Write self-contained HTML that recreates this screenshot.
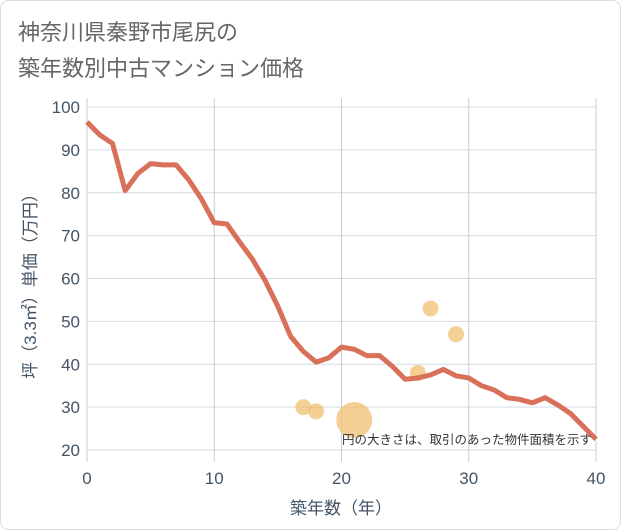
<!DOCTYPE html>
<html><head><meta charset="utf-8"><style>
body{margin:0;background:#fff;}
svg{display:block;font-family:"Liberation Sans","Noto Sans CJK JP",sans-serif;}
</style></head><body>
<svg width="621" height="530">
<rect x="0.5" y="0.5" width="620" height="529" rx="8" fill="#fff" stroke="#ddd"/>
<text x="18" y="40" font-size="22" fill="#666">神奈川県秦野市尾尻の</text>
<text x="18" y="76" font-size="22" fill="#666">築年数別中古マンション価格</text>
<g id="grid"></g>
<g id="yt"></g>
<g id="xt"></g>
<g id="bub"></g>
<path id="line" fill="none" stroke="#d9705a" stroke-width="5" stroke-linejoin="round"/>
<text transform="translate(36,282) rotate(-90)" text-anchor="middle" font-size="17" fill="#445566">坪（3.3㎡）単価（万円）</text>
<text x="341" y="514" text-anchor="middle" font-size="17" fill="#445566">築年数（年）</text>
<text x="592" y="444" text-anchor="end" font-size="12.5" fill="#333">円の大きさは、取引のあった物件面積を示す</text>
</svg>
<script>
const years=[0,1,2,3,4,5,6,7,8,9,10,11,12,13,14,15,16,17,18,19,20,21,22,23,24,25,26,27,28,29,30,31,32,33,34,35,36,37,38,39,40];
const prices=[96.5,93.5,91.5,80.5,84.5,86.8,86.5,86.5,83,78.5,73,72.7,68.5,64.5,59.5,53.5,46.5,43,40.5,41.5,44,43.5,42,42,39.5,36.5,36.8,37.5,38.8,37.3,36.8,35,34,32.2,31.8,31,32.2,30.5,28.5,25.5,22.5];
const bubbleX=[17,18,21,26,27,29];
const bubbleY=[30,29,27,38,53,47];
const bubbleR=[8,8,18,8,8,8];
const yTicks=[20,30,40,50,60,70,80,90,100];
const xTicks=[0,10,20,30,40];
const X=v=>87+(v/40)*509, Y=v=>450-(v-20)*(343/80);
const NS="http://www.w3.org/2000/svg";
function mk(t,a,p){const e=document.createElementNS(NS,t);for(const k in a)e.setAttribute(k,a[k]);p.appendChild(e);return e;}
const g=document.getElementById('grid'),yt=document.getElementById('yt'),xt=document.getElementById('xt'),bb=document.getElementById('bub');
mk('rect',{x:87,y:98,width:509,height:364,fill:'#fff'},g);
yTicks.forEach(v=>{const l=mk('line',{x1:87,x2:596,y1:Y(v),y2:Y(v),stroke:'#d5dbe3'},g);


const t=mk('text',{x:80,y:Y(v)+6,'text-anchor':'end','font-size':17,fill:'#445566'},yt);t.textContent=v;

});
xTicks.forEach(v=>{const l=mk('line',{x1:X(v),x2:X(v),y1:98,y2:462,stroke:'#c3cdd9'},g);


const t=mk('text',{x:X(v),y:484,'text-anchor':'middle','font-size':17,fill:'#445566'},xt);t.textContent=v;

});
bubbleX.forEach((v,i)=>{const c=mk('circle',{cx:X(v),cy:Y(bubbleY[i]),r:bubbleR[i],fill:'#f0c070','fill-opacity':0.75},bb);

});
document.getElementById('line').setAttribute('d',years.map((v,i)=>(i?'L':'M')+X(v)+','+Y(prices[i])).join(''));
</script>
</body></html>
